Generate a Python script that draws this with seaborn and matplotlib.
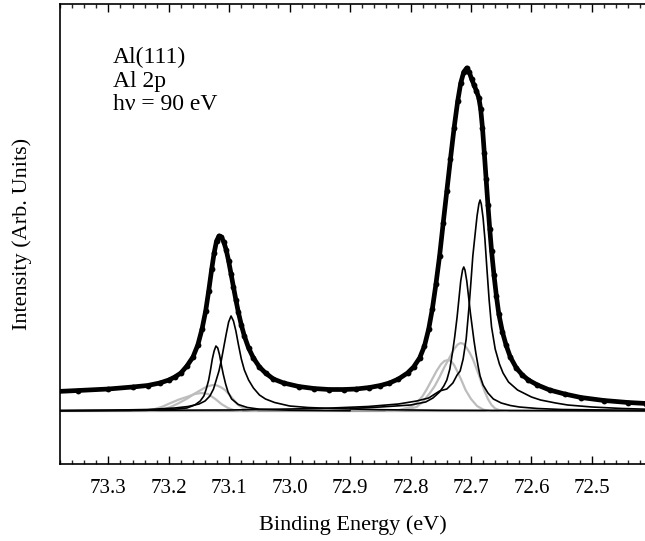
import matplotlib
matplotlib.use("Agg")
import matplotlib.pyplot as plt
import seaborn as sns
from matplotlib.ticker import MultipleLocator

# ---------------- data (binding energy in eV, intensity in arb. units) ----------------
data_be = [73.385, 73.35, 73.30, 73.26, 73.235, 73.215, 73.20, 73.19, 73.18, 73.17,
           73.16, 73.152, 73.145, 73.139, 73.134, 73.129, 73.125, 73.121, 73.117, 73.113,
           73.109, 73.105, 73.101, 73.097, 73.093, 73.089, 73.085, 73.080, 73.075, 73.068,
           73.06, 73.05, 73.04, 73.027, 73.01, 72.985, 72.96, 72.935, 72.91, 72.89,
           72.868, 72.85, 72.835, 72.82, 72.805, 72.795, 72.785, 72.777, 72.770, 72.764,
           72.758, 72.752, 72.746, 72.740, 72.734, 72.728, 72.722, 72.717, 72.712, 72.707,
           72.703, 72.699, 72.695, 72.691, 72.687, 72.684, 72.681, 72.678, 72.675, 72.672,
           72.669, 72.666, 72.662, 72.658, 72.654, 72.648, 72.642, 72.635, 72.625, 72.615,
           72.605, 72.59, 72.57, 72.545, 72.518, 72.48, 72.44, 72.41]
data_int = [0.195, 0.205, 0.22, 0.24, 0.255, 0.28, 0.31, 0.34, 0.38, 0.45,
            0.54, 0.66, 0.82, 1.00, 1.20, 1.42, 1.58, 1.70, 1.75, 1.74,
            1.69, 1.61, 1.50, 1.37, 1.24, 1.11, 0.99, 0.86, 0.75, 0.63,
            0.53, 0.44, 0.38, 0.32, 0.28, 0.245, 0.225, 0.215, 0.215, 0.22,
            0.235, 0.255, 0.28, 0.32, 0.38, 0.44, 0.53, 0.65, 0.82, 1.02,
            1.27, 1.55, 1.88, 2.20, 2.52, 2.83, 3.10, 3.28, 3.39, 3.43,
            3.39, 3.32, 3.26, 3.20, 3.13, 3.02, 2.83, 2.58, 2.32, 2.06,
            1.82, 1.60, 1.36, 1.15, 0.97, 0.79, 0.66, 0.54, 0.43, 0.36,
            0.31, 0.26, 0.21, 0.17, 0.135, 0.105, 0.085, 0.075]

# Al 2p3/2 components (low binding energy)
p32_bulk_be = [73.385, 73.10, 72.95, 72.87, 72.82, 72.79, 72.77, 72.752, 72.740, 72.730,
               72.723, 72.718, 72.713, 72.708, 72.703, 72.700, 72.697, 72.693, 72.690, 72.687,
               72.685, 72.683, 72.680, 72.677, 72.674, 72.670, 72.666, 72.660, 72.653, 72.647,
               72.638, 72.623, 72.60, 72.585, 72.56, 72.54, 72.50, 72.45, 72.41]
p32_bulk_int = [0.004, 0.01, 0.025, 0.045, 0.07, 0.10, 0.13, 0.20, 0.22, 0.28,
                0.36, 0.40, 0.52, 0.72, 1.06, 1.30, 1.55, 1.78, 1.95, 2.07,
                2.11, 2.07, 1.93, 1.72, 1.45, 1.11, 0.84, 0.62, 0.47, 0.38,
                0.29, 0.21, 0.14, 0.11, 0.08, 0.06, 0.04, 0.025, 0.018]

p32_s1_be = [72.90, 72.85, 72.80, 72.775, 72.763, 72.752, 72.745, 72.740, 72.735, 72.730,
             72.727, 72.723, 72.720, 72.717, 72.714, 72.712, 72.710, 72.707, 72.704, 72.701,
             72.698, 72.695, 72.692, 72.688, 72.685, 72.680, 72.672, 72.663, 72.65, 72.635,
             72.62, 72.59, 72.55, 72.41]
p32_s1_int = [0.025, 0.04, 0.06, 0.09, 0.13, 0.19, 0.25, 0.31, 0.42, 0.61,
              0.74, 0.94, 1.12, 1.30, 1.41, 1.44, 1.41, 1.30, 1.14, 0.98,
              0.84, 0.70, 0.58, 0.44, 0.35, 0.26, 0.18, 0.12, 0.08, 0.055,
              0.04, 0.025, 0.015, 0.006]

p32_g1_be = [72.83, 72.81, 72.79, 72.78, 72.768, 72.76, 72.752, 72.744, 72.735, 72.728,
             72.722, 72.717, 72.712, 72.707, 72.702, 72.697, 72.692, 72.687, 72.682, 72.677,
             72.672, 72.666, 72.66, 72.652, 72.64]
p32_g1_int = [0.0, 0.01, 0.04, 0.09, 0.18, 0.25, 0.34, 0.44, 0.54, 0.62,
              0.665, 0.68, 0.67, 0.63, 0.58, 0.52, 0.44, 0.36, 0.27, 0.19,
              0.12, 0.06, 0.025, 0.006, 0.0]

p32_g2_be = [72.84, 72.82, 72.80, 72.79, 72.78, 72.773, 72.765, 72.757, 72.75, 72.744,
             72.738, 72.733, 72.728, 72.723, 72.716, 72.709, 72.70, 72.69, 72.68, 72.67]
p32_g2_int = [0.0, 0.008, 0.04, 0.08, 0.15, 0.22, 0.31, 0.40, 0.465, 0.50,
              0.51, 0.50, 0.46, 0.40, 0.31, 0.21, 0.12, 0.05, 0.015, 0.0]

# Al 2p1/2 components (high binding energy)
p12_bulk_be = [73.385, 73.30, 73.235, 73.19, 73.168, 73.15, 73.14, 73.132, 73.126, 73.122,
               73.117, 73.113, 73.109, 73.105, 73.101, 73.097, 73.093, 73.089, 73.085, 73.080,
               73.075, 73.068, 73.060, 73.05, 73.04, 73.025, 73.00, 72.97, 72.93, 72.85,
               72.75, 72.41]
p12_bulk_int = [0.004, 0.008, 0.015, 0.03, 0.045, 0.07, 0.10, 0.15, 0.22, 0.30,
                0.40, 0.51, 0.64, 0.77, 0.89, 0.95, 0.90, 0.80, 0.67, 0.52,
                0.41, 0.31, 0.23, 0.16, 0.12, 0.085, 0.05, 0.035, 0.025, 0.013,
                0.007, 0.002]

p12_s1_be = [73.385, 73.25, 73.20, 73.17, 73.157, 73.148, 73.142, 73.138, 73.134, 73.131,
             73.128, 73.125, 73.122, 73.119, 73.116, 73.113, 73.110, 73.106, 73.102, 73.096,
             73.085, 73.07, 73.05, 73.00, 72.90]
p12_s1_int = [0.002, 0.006, 0.012, 0.03, 0.06, 0.10, 0.15, 0.22, 0.31, 0.41,
              0.52, 0.60, 0.65, 0.63, 0.56, 0.46, 0.37, 0.27, 0.19, 0.12,
              0.065, 0.035, 0.018, 0.008, 0.003]

p12_g1_be = [73.235, 73.222, 73.21, 73.197, 73.183, 73.168, 73.157, 73.147, 73.137, 73.127,
             73.12, 73.113, 73.107, 73.100, 73.093, 73.087, 73.080, 73.073, 73.065, 73.055]
p12_g1_int = [0.0, 0.005, 0.015, 0.04, 0.08, 0.13, 0.175, 0.21, 0.245, 0.26,
              0.255, 0.235, 0.21, 0.165, 0.115, 0.07, 0.04, 0.018, 0.005, 0.0]

p12_g2_be = [73.26, 73.24, 73.223, 73.21, 73.197, 73.183, 73.168, 73.157, 73.146, 73.135,
             73.123, 73.113, 73.102, 73.093, 73.08]
p12_g2_int = [0.0, 0.005, 0.02, 0.045, 0.08, 0.115, 0.145, 0.17, 0.18, 0.17,
              0.12, 0.07, 0.03, 0.01, 0.0]

x_ticks = [73.3, 73.2, 73.1, 73.0, 72.9, 72.8, 72.7, 72.6, 72.5]
x_tick_labels = ["73.3", "73.2", "73.1", "73.0", "72.9", "72.8", "72.7", "72.6", "72.5"]
annot_lines = ["Al(111)", "Al 2p", "h\u03bd = 90 eV"]

# ---------------- plotting ----------------
sns.set_theme(style="white")
plt.rcParams["font.family"] = ["Liberation Serif", "DejaVu Serif"]

fig = plt.figure(figsize=(6.45, 5.41), dpi=100)
ax = fig.add_axes([60 / 645, 1 - 464 / 541, 1 - 60 / 645 + 0.002, (464 - 4) / 541])

gray = "#bdbdbd"
ax.axhline(0, color="#a0a0a0", lw=1.6, zorder=1)

for bx, by in [(p32_g1_be, p32_g1_int), (p32_g2_be, p32_g2_int),
               (p12_g1_be, p12_g1_int), (p12_g2_be, p12_g2_int)]:
    sns.lineplot(x=bx, y=by, ax=ax, color=gray, lw=1.6, estimator=None, sort=False, zorder=2)

for bx, by in [(p32_bulk_be, p32_bulk_int), (p32_s1_be, p32_s1_int),
               (p12_bulk_be, p12_bulk_int), (p12_s1_be, p12_s1_int)]:
    sns.lineplot(x=bx, y=by, ax=ax, color="black", lw=1.2, estimator=None, sort=False, zorder=3)

sns.lineplot(x=data_be, y=data_int, ax=ax, color="black", lw=3.4, estimator=None,
             sort=False, zorder=4, marker="o", markersize=4.2, markeredgewidth=0)

ax.set_xlim(73.38, 72.41)
ax.set_ylim(-0.53, 4.07)
ax.set_xticks(x_ticks)
ax.set_xticklabels(x_tick_labels)
ax.xaxis.set_minor_locator(MultipleLocator(0.02))
ax.set_yticks([])

ax.tick_params(axis="x", which="major", direction="in", length=6, width=1,
               top=True, bottom=True, labelsize=15, pad=11, colors="black")
ax.tick_params(axis="x", which="minor", direction="in", length=3, width=1,
               top=True, bottom=True)

for side in ["left", "bottom", "top"]:
    ax.spines[side].set_color("black")
    ax.spines[side].set_linewidth(1.2)
ax.spines["right"].set_visible(False)

ax.set_xlabel("Binding Energy (eV)", fontsize=16, labelpad=12, color="black")
ax.set_ylabel("Intensity (Arb. Units)", fontsize=16, labelpad=20, color="black")

y0 = 63
for i, t in enumerate(annot_lines):
    fig.text(113 / 645, 1 - (y0 + 23.5 * i) / 541, t, fontsize=17, color="black",
             ha="left", va="baseline")

fig.savefig("out.png", dpi=100)
